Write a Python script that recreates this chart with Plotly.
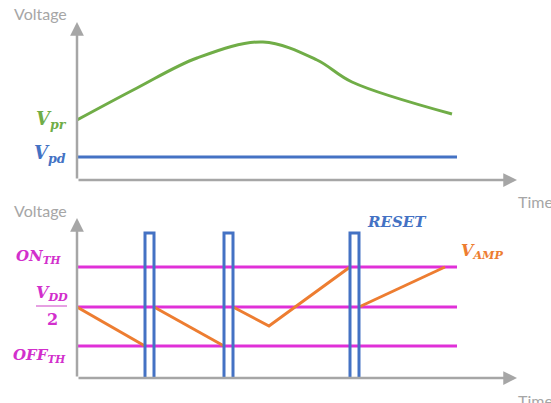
import plotly.graph_objects as go

W, H = 551, 403

# ---- data (time and voltage in arbitrary units) ----
# upper panel
t_pr = [0, 60, 120, 186, 240, 275, 375]
v_pr = [60, 92, 122, 138, 120, 98, 66]
t_pd = [0, 380]
v_pd = [23, 23]

# lower panel
th_names = ["ON_TH", "VDD/2", "OFF_TH"]
th_levels = [111, 71, 32]
th_end = 380

reset_starts = [68, 147, 273]
reset_ends = [77, 156, 282]
reset_high = 145

amp_segments_t = [[0, 68], [77, 147], [156, 192, 273], [282, 368]]
amp_segments_v = [[71, 32], [71, 32], [71, 52, 111], [71, 111]]

T_MAX = 440
V_MAX_TOP = 158
V_MAX_BOT = 160

GREEN = "#70AD47"
BLUE = "#4472C4"
ORANGE = "#ED7D31"
MAGENTA = "#E030D8"
MAG_TXT = "#D22FCC"
GRAY = "#A6A6A6"


def P(x, y):
    """pixel -> paper coordinates"""
    return x / W, 1 - y / H


fig = go.Figure()

# upper panel traces
fig.add_trace(go.Scatter(x=t_pr, y=v_pr, mode="lines", line=dict(color=GREEN, width=3, shape="spline", smoothing=1.0),
                         xaxis="x", yaxis="y", hoverinfo="skip"))
fig.add_trace(go.Scatter(x=t_pd, y=v_pd, mode="lines", line=dict(color=BLUE, width=3),
                         xaxis="x", yaxis="y", hoverinfo="skip"))

# lower panel: thresholds
for lv in th_levels:
    fig.add_trace(go.Scatter(x=[0, th_end], y=[lv, lv], mode="lines", line=dict(color=MAGENTA, width=3),
                             xaxis="x2", yaxis="y2", hoverinfo="skip"))

# amplifier voltage
for ts, vs in zip(amp_segments_t, amp_segments_v):
    fig.add_trace(go.Scatter(x=ts, y=vs, mode="lines", line=dict(color=ORANGE, width=3),
                             xaxis="x2", yaxis="y2", hoverinfo="skip"))

# reset pulses
px_, py_ = [], []
for a, b in zip(reset_starts, reset_ends):
    px_ += [a, a, b, b, None]
    py_ += [0, reset_high, reset_high, 0, None]
fig.add_trace(go.Scatter(x=px_, y=py_, mode="lines", line=dict(color=BLUE, width=3),
                         xaxis="x2", yaxis="y2", hoverinfo="skip"))

ax_common = dict(showgrid=False, zeroline=False, showticklabels=False, ticks="", showline=False)
fig.update_layout(
    width=W, height=H, margin=dict(l=0, r=0, t=0, b=0),
    paper_bgcolor="white", plot_bgcolor="rgba(0,0,0,0)", showlegend=False,
    xaxis=dict(domain=[77 / W, 517 / W], range=[0, T_MAX], anchor="y", **ax_common),
    yaxis=dict(domain=[1 - 180 / H, 1 - 22 / H], range=[0, V_MAX_TOP], anchor="x", **ax_common),
    xaxis2=dict(domain=[77 / W, 517 / W], range=[0, T_MAX], anchor="y2", **ax_common),
    yaxis2=dict(domain=[1 - 378 / H, 1 - 218 / H], range=[0, V_MAX_BOT], anchor="x2", **ax_common),
)

# axes arrows
for xr, yr, vmax in [("x", "y", V_MAX_TOP), ("x2", "y2", V_MAX_BOT)]:
    for (x, y) in [(T_MAX, 0), (0, vmax)]:
        fig.add_annotation(x=x, y=y, ax=0, ay=0, xref=xr, yref=yr, axref=xr, ayref=yr,
                           showarrow=True, arrowhead=2, arrowsize=1.1, arrowwidth=2.5,
                           arrowcolor=GRAY, standoff=0, startstandoff=0, text="")

def label(text, x, y, color, size, family, xanchor="center"):
    xp, yp = P(x, y)
    fig.add_annotation(x=xp, y=yp, xref="paper", yref="paper", text=text, showarrow=False,
                       xanchor=xanchor, yanchor="middle", font=dict(color=color, size=size, family=family))

SANS = "Lato"
SERIF = "DejaVu Serif"

label("Voltage", 12, 14, GRAY, 16, SANS, "left")
label("Voltage", 12, 210, GRAY, 16, SANS, "left")
label("Time", 516, 202, GRAY, 16, SANS, "left")
label("Time", 516, 400, GRAY, 16, SANS, "left")

label("<b><i>V<sub>pr</sub></i></b>", 69, 120, GREEN, 18, SERIF, "right")
label("<b><i>V<sub>pd</sub></i></b>", 68, 154, BLUE, 18, SERIF, "right")

label("<b><i>ON<sub>TH</sub></i></b>", 64, 256, MAG_TXT, 15, SERIF, "right")
label("<b><i>V<sub>DD</sub></i></b>", 52, 293, MAG_TXT, 16, SERIF, "center")
label("<b>2</b>", 52, 319, MAG_TXT, 16, SERIF, "center")
label("<b><i>OFF<sub>TH</sub></i></b>", 68, 355, MAG_TXT, 15, SERIF, "right")

label("<b><i>RESET</i></b>", 365, 222, BLUE, 15, SERIF, "left")
label("<b><i>V<sub>AMP</sub></i></b>", 459, 251, ORANGE, 16, SERIF, "left")

# fraction bar under V_DD
x0, y0 = P(36, 306)
x1, _ = P(67, 306)
fig.add_shape(type="line", xref="paper", yref="paper", x0=x0, x1=x1, y0=y0, y1=y0,
              line=dict(color="#E6A0E2", width=2))

fig.write_html("out.html")
